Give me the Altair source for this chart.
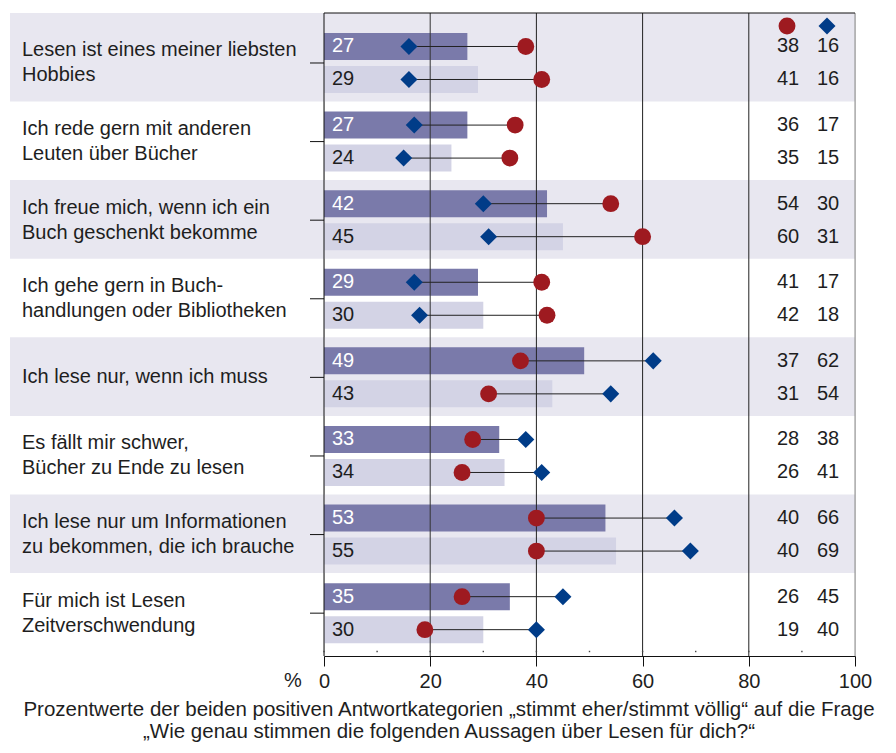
import altair as alt
import pandas as pd

statements = [
    ["Lesen ist eines meiner liebsten", "Hobbies"],
    ["Ich rede gern mit anderen", "Leuten über Bücher"],
    ["Ich freue mich, wenn ich ein", "Buch geschenkt bekomme"],
    ["Ich gehe gern in Buch-", "handlungen oder Bibliotheken"],
    ["Ich lese nur, wenn ich muss"],
    ["Es fällt mir schwer,", "Bücher zu Ende zu lesen"],
    ["Ich lese nur um Informationen", "zu bekommen, die ich brauche"],
    ["Für mich ist Lesen", "Zeitverschwendung"],
]
bar_top = [27, 27, 42, 29, 49, 33, 53, 35]
bar_bottom = [29, 24, 45, 30, 43, 34, 55, 30]
circle_top = [38, 36, 54, 41, 37, 28, 40, 26]
circle_bottom = [41, 35, 60, 42, 31, 26, 40, 19]
diamond_top = [16, 17, 30, 17, 62, 38, 66, 45]
diamond_bottom = [16, 15, 31, 18, 54, 41, 69, 40]
x_ticks = [0, 20, 40, 60, 80, 100]
grid_values = [0, 20, 40, 60, 80, 100]
grid_colors = ["#111111", "#333333", "#222222", "#222222", "#222222", "#8c8c8c"]
minor_ticks = [0, 10, 20, 30, 40, 50, 60, 70, 80, 90]
caption_lines = [
    "Prozentwerte der beiden positiven Antwortkategorien „stimmt eher/stimmt völlig“ auf die Frage",
    "„Wie genau stimmen die folgenden Aussagen über Lesen für dich?“",
]

FONT = "Liberation Sans"
TXT = "#1e1e1e"
DARK = "#7a7aaa"
LIGHT = "#d3d3e5"
BAND = "#e8e7f0"
RED = "#9e1a20"
BLUE = "#003c88"

W, H = 531, 643
Y_TOP, Y_BOT = -0.636, 7.545
PX = H / (Y_BOT - Y_TOP)  # pixels per group unit
ROW_OFF = 16.5 / PX
BAR_HALF = 13.5 / PX
LINE_H = 25 / PX

n = len(statements)

rows = []
for k in range(n):
    for r, (b, c, d) in enumerate([(bar_top[k], circle_top[k], diamond_top[k]),
                                   (bar_bottom[k], circle_bottom[k], diamond_bottom[k])]):
        yc = k + (-ROW_OFF if r == 0 else ROW_OFF)
        rows.append(dict(group=k, row=r, yc=yc, y0=yc - BAR_HALF, y1=yc + BAR_HALF,
                         zero=0, bar=b, circle=c, diamond=d,
                         fill=DARK if r == 0 else LIGHT,
                         tc="#ffffff" if r == 0 else TXT))
df = pd.DataFrame(rows)

groups = pd.DataFrame(dict(
    k=list(range(n)),
    b0=[Y_TOP if k == 0 else k - 0.51 for k in range(n)],
    b1=[k + 0.49 for k in range(n)],
    gray=[k % 2 == 0 for k in range(n)],
))

label_rows = []
for k, lines in enumerate(statements):
    m = len(lines)
    for i, t in enumerate(lines):
        label_rows.append(dict(t=t, y=k + (i - (m - 1) / 2) * LINE_H))
label_df = pd.DataFrame(label_rows)

xs = alt.Scale(domain=[0, 100], nice=False, zero=False)
ys = alt.Scale(domain=[Y_TOP, Y_BOT], nice=False, zero=False, reverse=True)
x_axis = alt.Axis(values=x_ticks, tickSize=10, tickColor="#111", domainColor="#111",
                  labelFont=FONT, labelFontSize=20, labelColor=TXT, labelPadding=5,
                  grid=False, title=None, labelFlush=False, format="d")


def X(f):
    return alt.X(f, type="quantitative", scale=xs, axis=x_axis)


def Y(f):
    return alt.Y(f, type="quantitative", scale=ys, axis=None)


base = alt.Chart(df)

bands = alt.Chart(groups).transform_filter("datum.gray").mark_rect(color=BAND).encode(
    x=alt.value(-314), x2=alt.value(W), y=Y("b0"), y2=alt.Y2("b1"))

bars = base.mark_rect().encode(
    x=X("zero"), x2=alt.X2("bar"), y=Y("y0"), y2=alt.Y2("y1"),
    color=alt.Color("fill:N", scale=None))

bar_labels = base.mark_text(align="left", baseline="middle", font=FONT, fontSize=20).encode(
    x=alt.value(8), y=Y("yc"), text="bar:Q", color=alt.Color("tc:N", scale=None))

grid_df = pd.DataFrame(dict(v=grid_values, c=grid_colors))
grid = alt.Chart(grid_df).mark_rule(strokeWidth=1).encode(
    x=X("v"), y=alt.value(0), y2=alt.value(H), color=alt.Color("c:N", scale=None))

top_border = alt.Chart(grid_df.head(1)).mark_rule(color="#111", strokeWidth=1).encode(
    x=alt.value(0), x2=alt.value(W), y=alt.value(0))

left_ticks = alt.Chart(groups).mark_rule(color="#111", strokeWidth=1).encode(
    x=alt.value(-14), x2=alt.value(0), y=Y("k"))

connectors = base.mark_rule(color="#222", strokeWidth=1).encode(
    x=X("circle"), x2=alt.X2("diamond"), y=Y("yc"))

circles = base.mark_point(shape="circle", filled=True, size=285, opacity=1, color=RED, strokeWidth=0).encode(
    x=X("circle"), y=Y("yc"))
diamonds = base.mark_point(shape="diamond", filled=True, size=290, opacity=1, color=BLUE, strokeWidth=0).encode(
    x=X("diamond"), y=Y("yc"))

num_c = base.mark_text(align="center", baseline="middle", font=FONT, fontSize=20, color=TXT).encode(
    x=alt.value(464), y=Y("yc"), text="circle:Q")
num_d = base.mark_text(align="center", baseline="middle", font=FONT, fontSize=20, color=TXT).encode(
    x=alt.value(504), y=Y("yc"), text="diamond:Q")

hdr = pd.DataFrame(dict(s=["circle", "diamond"]))
hdr_c = alt.Chart(hdr.head(1)).mark_point(shape="circle", filled=True, size=285, opacity=1, color=RED,
                                          strokeWidth=0).encode(x=alt.value(463), y=alt.value(13))
hdr_d = alt.Chart(hdr.tail(1)).mark_point(shape="diamond", filled=True, size=290, opacity=1, color=BLUE,
                                          strokeWidth=0).encode(x=alt.value(503), y=alt.value(13))

labels = alt.Chart(label_df).mark_text(align="left", baseline="middle", font=FONT, fontSize=20,
                                       color=TXT).encode(
    x=alt.value(-302), y=Y("y"), text="t:N")

minor = alt.Chart(pd.DataFrame(dict(m=minor_ticks))).mark_square(size=2, color="#444", opacity=1).encode(
    x=X("m"), y=alt.value(H - 4.5))

pct = alt.Chart(pd.DataFrame(dict(t=["%"]))).mark_text(
    align="center", baseline="alphabetic", font=FONT, fontSize=20, color=TXT).encode(
    x=alt.value(-31), y=alt.value(674), text="t:N")

cap1 = alt.Chart(pd.DataFrame(dict(t=[caption_lines[0]]))).mark_text(
    align="center", baseline="alphabetic", font=FONT, fontSize=20.5, color=TXT).encode(
    x=alt.value(125), y=alt.value(703), text="t:N")
cap2 = alt.Chart(pd.DataFrame(dict(t=[caption_lines[1]]))).mark_text(
    align="center", baseline="alphabetic", font=FONT, fontSize=20.5, color=TXT).encode(
    x=alt.value(125), y=alt.value(725), text="t:N")

chart = alt.layer(
    bands, bars, grid, top_border, bar_labels, left_ticks, minor, connectors, circles, diamonds,
    num_c, num_d, hdr_c, hdr_d, labels, pct, cap1, cap2
).properties(
    width=W, height=H,
    autosize=alt.AutoSizeParams(type="none"),
    padding={"left": 316, "top": 5, "right": 33, "bottom": 89},
).configure_view(stroke=None).configure(background="white")

chart.save("out.html", embed_options={"renderer": "svg", "actions": False})
